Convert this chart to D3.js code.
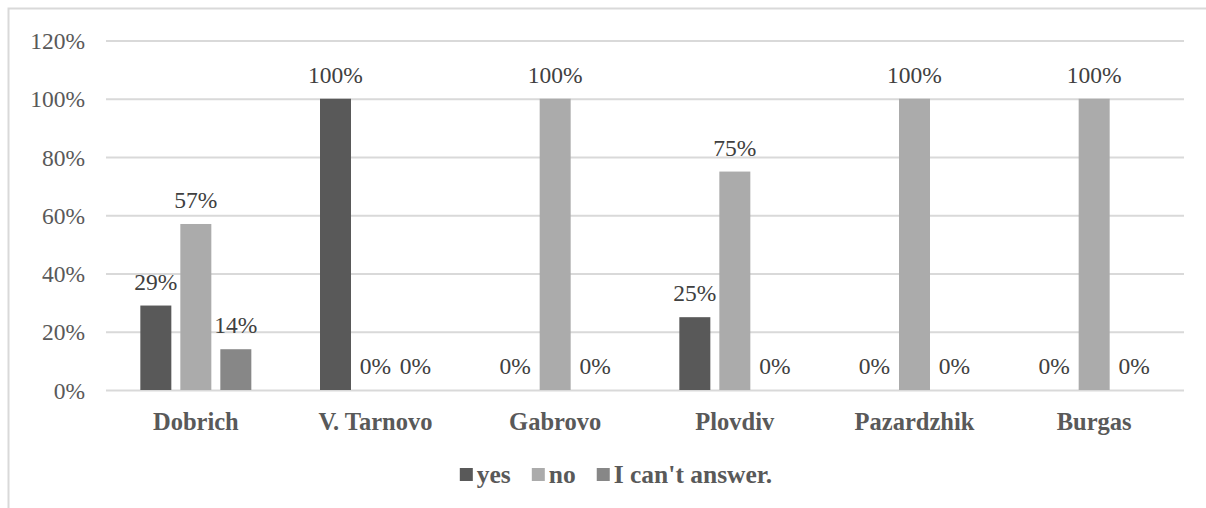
<!DOCTYPE html>
<html>
<head>
<meta charset="utf-8">
<script src="https://cdn.jsdelivr.net/npm/d3@7"></script>
<style>
  body { margin: 0; background: #fff; }
  svg { display: block; }
</style>
</head>
<body>
<div id="chart-area"></div>
<script>
// values
var cities = ["Dobrich", "V. Tarnovo", "Gabrovo", "Plovdiv", "Pazardzhik", "Burgas"];
var answers = ["yes", "no", "I can't answer."];
var yesValues = [29, 100, 0, 25, 0, 0];
var noValues = [57, 0, 100, 75, 100, 100];
var cantValues = [14, 0, 0, 0, 0, 0];
var yTicks = [0, 20, 40, 60, 80, 100, 120];
var colors = ["#595959", "#ababab", "#878787"];

var width = 1206, height = 508;
var serif = "'Liberation Serif', 'Times New Roman', serif";

var svg = d3.select("#chart-area")
    .append("svg")
    .attr("width", width)
    .attr("height", height);

// chart border (right and bottom edges fall outside the picture)
svg.append("rect")
    .attr("x", 8.5).attr("y", 8.5)
    .attr("width", width + 10).attr("height", height + 10)
    .attr("fill", "none")
    .attr("stroke", "#d9d9d9")
    .attr("stroke-width", 2);

var rows = cities.map(function(c, i) {
    return { city: c, values: [yesValues[i], noValues[i], cantValues[i]] };
});

var x0 = d3.scaleBand()
    .domain(cities)
    .range([106, 1184]);

var x1 = d3.scaleBand()
    .domain(answers)
    .range([-55.5, 55.5])
    .paddingInner(0.225);

var y = d3.scaleLinear()
    .domain([0, 120])
    .range([390, 40.5]);

// gridlines + tick labels
var yAxis = svg.append("g")
    .attr("transform", "translate(106,0)")
    .call(d3.axisLeft(y)
        .tickValues(yTicks)
        .tickSize(-(1184 - 106))
        .tickPadding(21)
        .tickFormat(function(d) { return d + "%"; }));

yAxis.select(".domain").remove();
yAxis.selectAll(".tick line")
    .attr("stroke", "#d9d9d9")
    .attr("stroke-width", 2);
yAxis.selectAll(".tick text")
    .attr("font-family", serif)
    .attr("font-size", 23.5)
    .attr("fill", "#595959")
    .attr("dy", "0.34em");

// bars
var groups = svg.selectAll(".city")
        .data(rows)
    .enter()
        .append("g")
        .attr("class", "city")
        .attr("transform", function(d) {
            return "translate(" + (x0(d.city) + x0.bandwidth() / 2) + ",0)";
        });

groups.selectAll("rect")
        .data(function(d) { return d.values; })
    .enter()
        .append("rect")
        .attr("x", function(d, i) { return x1(answers[i]); })
        .attr("y", function(d) { return y(d); })
        .attr("width", x1.bandwidth())
        .attr("height", function(d) { return y(0) - y(d); })
        .attr("fill", function(d, i) { return colors[i]; });

groups.selectAll("text")
        .data(function(d) { return d.values; })
    .enter()
        .append("text")
        .attr("x", function(d, i) { return x1(answers[i]) + x1.bandwidth() / 2; })
        .attr("y", function(d) { return y(d) - 16; })
        .attr("text-anchor", "middle")
        .attr("font-family", serif)
        .attr("font-size", 23.5)
        .attr("fill", "#404040")
        .text(function(d) { return d + "%"; });

// category labels
svg.selectAll(".cat")
        .data(cities)
    .enter()
        .append("text")
        .attr("class", "cat")
        .attr("x", function(d) { return x0(d) + x0.bandwidth() / 2; })
        .attr("y", 430)
        .attr("text-anchor", "middle")
        .attr("font-family", serif)
        .attr("font-weight", "bold")
        .attr("font-size", 24.5)
        .attr("fill", "#595959")
        .text(function(d) { return d; });

// legend
var legend = svg.append("g");
var items = legend.selectAll("g")
        .data(answers)
    .enter()
        .append("g");

items.append("rect")
    .attr("y", 468)
    .attr("width", 13)
    .attr("height", 13)
    .attr("fill", function(d, i) { return colors[i]; });

items.append("text")
    .attr("x", 17)
    .attr("y", 483)
    .attr("font-family", serif)
    .attr("font-weight", "bold")
    .attr("font-size", 25.5)
    .attr("fill", "#595959")
    .text(function(d) { return d; });

var pos = 0;
items.each(function() {
    var g = d3.select(this);
    g.attr("transform", "translate(" + pos + ",0)");
    pos += 17 + g.select("text").node().getComputedTextLength() + 21;
});
var legendWidth = pos - 21;
legend.attr("transform", "translate(" + (616 - legendWidth / 2) + ",0)");
</script>
</body>
</html>
